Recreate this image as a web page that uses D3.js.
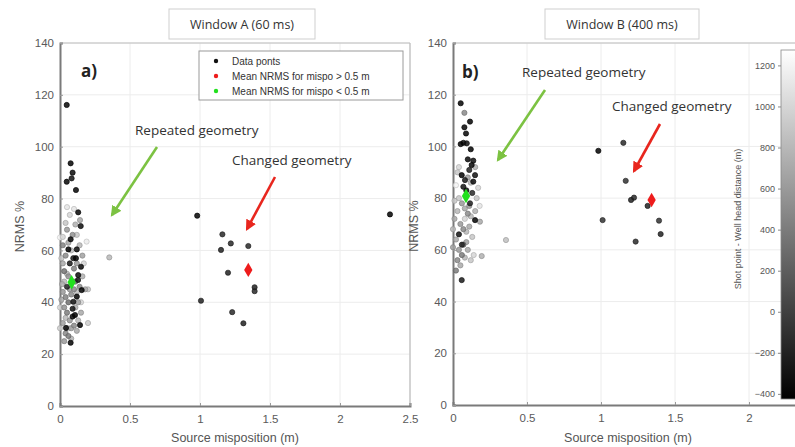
<!DOCTYPE html>
<html>
<head>
<meta charset="utf-8">
<script src="https://cdn.jsdelivr.net/npm/d3@7/dist/d3.min.js"></script>
<style>
  html, body { margin: 0; padding: 0; background: #fff; }
  svg { display: block; }
  .tick text { font-family: "Liberation Sans", Arial, sans-serif; }
</style>
</head>
<body>
<svg id="chart" width="795" height="447"></svg>
<script>
// ---- Data: [source misposition (m), NRMS %, shot point - well head distance (m)] ----
const windowA_repeated = [
  [0.048,116.1,-380],[0.076,93.6,-400],[0.09,90.0,-350],[0.083,87.8,-300],[0.048,86.5,-380],
  [0.114,83.3,-390],[0.13,74.7,-400],[0.148,69.4,-330],[0.076,64.3,-380],[0.06,60.4,-400],
  [0.12,60.4,-360],[0.114,57.0,-400],[0.095,57.0,-250],[0.15,53.7,-380],[0.129,48.6,-300],
  [0.155,44.7,-420],[0.12,42.2,-400],[0.095,40.2,-330],[0.107,35.1,-400],[0.09,34.5,-380],
  [0.143,31.2,-400],[0.043,30.1,-390],[0.076,24.4,-400],[0.09,37.5,-300],[0.05,46.0,-200],
  [0.13,50.5,-350],[0.07,55.0,-250],
  [0.02,62,450],[0.04,58,500],[0.03,52,350],[0.06,50,550],[0.1,53,450],[0.12,55,600],
  [0.16,58,650],[0.11,48,350],[0.14,46,500],[0.18,45,700],[0.02,44,600],[0.04,42,450],
  [0.06,40,300],[0.08,43,500],[0.13,40,650],[0.03,38,550],[0.05,36,400],[0.07,33,600],
  [0.1,31,500],[0.12,29,700],[0.02,32,650],[0.04,28,500],[0.06,27,400],[0.03,25,600],
  [0.08,26,750],[0.01,41,700],[0.015,47,750],[0.02,55,700],[0.09,48,650],[0.05,51,800],
  [0.07,45,600],[0.1,45,500],[0.11,38,750],[0.15,36,700],[0.08,30,650],[0.04,34,800],
  [0.12,44,850],[0.16,50,750],[0.06,63,700],[0.09,66,550],[0.14,62,800],[0.05,68,600],
  [0.11,70,750],
  [0.05,76.7,1100],[0.07,73.7,1000],[0.04,70.6,900],[0.02,65.2,1000],[0.19,63.4,1150],
  [0.143,71.7,700],[0.0,65,1200],[0.01,57,900],[0.17,55,1000],[0.2,45,900],[0.2,32,950],
  [0.03,48,800],[0.08,60,850],[0.12,66,900],[0.1,76,1100],[0.0,38,1000],[0.0,30,950],
  [0.06,30,1000],[0.13,33,800],[0.15,40,1000],[0.352,57.3,800]
];
const windowA_changed = [
  [0.98,73.4,-400],[1.16,66.2,-150],[1.22,62.7,-150],[1.15,60.2,-200],[1.345,61.7,-150],
  [1.20,51.4,-200],[1.39,45.8,-200],[1.39,44.3,-150],[1.007,40.6,-200],[1.23,36.2,-150],
  [1.31,31.9,-200],[2.357,73.9,-400]
];
const windowB_repeated = [
  [0.052,116.7,-400],[0.115,109.6,-400],[0.077,107.4,-380],[0.088,105,-390],[0.052,100.9,-400],
  [0.07,101.4,-350],[0.093,101.2,-300],[0.12,98.9,-400],[0.137,94.5,-330],[0.126,92.8,-380],
  [0.11,90.9,-200],[0.059,88.9,-400],[0.149,88.9,-300],[0.137,86.4,-350],[0.081,87,-250],
  [0.07,84.4,-300],[0.115,78,-200],[0.149,71.5,-400],[0.059,48.3,-250],[0.1,95,-350],
  [0.09,83,-350],[0.13,82,-150],[0.04,66,-300],[0.06,62,-200],
  [0.077,113,500],[0.182,70.9,700],[0.03,90,900],[0.02,85,1200],[0.04,80,900],[0.06,78,600],
  [0.08,76,700],[0.1,74,500],[0.12,73,800],[0.16,80,900],[0.17,84,1000],[0.18,77,1100],
  [0.03,75,800],[0.01,72,700],[0.05,70,600],[0.07,68,500],[0.09,67,800],[0.11,69,700],
  [0.13,65,900],[0.02,64,700],[0.04,60,600],[0.06,58,400],[0.08,57,800],[0.1,60,700],
  [0.12,56,900],[0.03,56,500],[0.05,54,700],[0.02,52,400],[0.07,62,300],[0.09,63,650],
  [0.14,58,1000],[0.15,75,750],[0.01,79,900],[0.11,77,600],[0.194,57.6,750],[0.358,63.8,850],
  [0.0,68,800],[0.0,61,650],[0.08,72,1000],[0.12,86,800],[0.15,92,750],[0.04,92,1000],
  [0.1,88,650]
];
const windowB_changed = [
  [0.982,98.3,-400],[1.151,101.4,-150],[1.167,86.7,-100],[1.203,79.3,-200],[1.223,80.2,-150],
  [1.315,77.0,-200],[1.011,71.5,-100],[1.392,71.3,-100],[1.403,66.1,-200],[1.234,63.2,-150]
];
// Mean NRMS markers [misposition, NRMS]
const meanHighA = [1.345, 52.5];
const meanLowA  = [0.083, 47.7];
const meanHighB = [1.342, 79.3];
const meanLowB  = [0.088, 80.8];

const xTicksA = [0, 0.5, 1, 1.5, 2, 2.5];
const xTicksB = [0, 0.5, 1, 1.5, 2];
const yTicks = [0, 20, 40, 60, 80, 100, 120, 140];
const cbTicks = [-400, -200, 0, 200, 400, 600, 800, 1000, 1200];
const cbDomain = [-425, 1275];
const legendLabels = ["Data ponts", "Mean NRMS for mispo > 0.5 m", "Mean NRMS for mispo < 0.5 m"];

// ---- Drawing ----
const svg = d3.select("#chart");
const tickFont = "Liberation Sans, Arial, sans-serif";
const annFont = "Open Sans, Lato, sans-serif";
const gray = d3.scaleLinear().domain(cbDomain).range(["#000000", "#ffffff"]).clamp(true);

const GREEN = "#22e01e", RED = "#ee1c1c";
const ARROW_GREEN = "#7cc242", ARROW_RED = "#e8261e";

const defs = svg.append("defs");
function arrowMarker(id, color) {
  defs.append("marker").attr("id", id).attr("viewBox", "0 0 10 10")
    .attr("refX", 8).attr("refY", 5).attr("markerWidth", 4.2).attr("markerHeight", 4.2)
    .attr("orient", "auto")
    .append("path").attr("d", "M0,0 L10,5 L0,10 Z").attr("fill", color);
}
arrowMarker("arrG", ARROW_GREEN);
arrowMarker("arrR", ARROW_RED);

function panel(cfg) {
  const x = d3.scaleLinear().domain([0, 2.5]).range([cfg.x0, cfg.x1]);
  const y = d3.scaleLinear().domain([0, 140]).range([cfg.yb, cfg.yt]);
  const g = svg.append("g");

  // grid
  g.append("g").selectAll("line").data(cfg.xTicks.slice(1)).join("line")
    .attr("x1", d => x(d)).attr("x2", d => x(d)).attr("y1", y(0)).attr("y2", y(140))
    .attr("stroke", "#ececec").attr("stroke-width", 1);
  g.append("g").selectAll("line").data(yTicks.slice(1)).join("line")
    .attr("x1", x(0)).attr("x2", x(2.5)).attr("y1", d => y(d)).attr("y2", d => y(d))
    .attr("stroke", "#ececec").attr("stroke-width", 1);

  // box (top / right)
  g.append("line").attr("x1", x(0)).attr("x2", x(2.5)).attr("y1", y(140)).attr("y2", y(140))
    .attr("stroke", "#bdbdbd").attr("stroke-width", 1.2);
  g.append("line").attr("x1", x(2.5)).attr("x2", x(2.5)).attr("y1", y(140)).attr("y2", y(0))
    .attr("stroke", "#bdbdbd").attr("stroke-width", 1.2);

  // axes
  const xa = g.append("g").attr("transform", `translate(0,${y(0)})`)
    .call(d3.axisBottom(x).tickValues(cfg.xTicks).tickSize(-3).tickPadding(9).tickFormat(d3.format("")));
  const ya = g.append("g").attr("transform", `translate(${x(0)},0)`)
    .call(d3.axisLeft(y).tickValues(yTicks).tickSize(-3).tickPadding(6));
  [xa, ya].forEach(a => {
    a.select(".domain").attr("stroke", "#7a7a7a").attr("stroke-width", 2);
    a.selectAll(".tick line").attr("stroke", "#9a9a9a");
    a.selectAll(".tick text").attr("fill", "#5a5a5a").attr("font-size", 11.5)
      .attr("font-family", tickFont);
  });

  // axis titles
  g.append("text").attr("x", cfg.xTitleX).attr("y", 442).attr("text-anchor", "middle")
    .attr("font-family", tickFont).attr("font-size", 12.5).attr("fill", "#555")
    .text("Source misposition (m)");
  g.append("text").attr("transform", `translate(${cfg.yTitleX},${(y(0) + y(140)) / 2 + 2}) rotate(-90)`)
    .attr("text-anchor", "middle").attr("font-family", tickFont).attr("font-size", 12.5)
    .attr("fill", "#555").text("NRMS %");

  // title box
  const tb = g.append("g");
  tb.append("rect").attr("x", cfg.titleX - cfg.titleW / 2).attr("y", 9)
    .attr("width", cfg.titleW).attr("height", 30).attr("fill", "#fff")
    .attr("stroke", "#cfcfcf").attr("stroke-width", 1);
  tb.append("text").attr("x", cfg.titleX).attr("y", 29).attr("text-anchor", "middle")
    .attr("font-family", annFont).attr("font-size", 12.5).attr("fill", "#333").text(cfg.title);

  // panel letter
  g.append("text").attr("x", cfg.letterX).attr("y", cfg.letterY).attr("font-family", annFont)
    .attr("font-weight", "bold").attr("font-size", 17).attr("fill", "#222").text(cfg.letter);

  // scatter points (lighter first so dark points sit on top)
  const pts = cfg.points.slice().sort((a, b) => b[2] - a[2]);
  g.append("g").selectAll("circle").data(pts).join("circle")
    .attr("cx", d => x(d[0])).attr("cy", d => y(d[1])).attr("r", 2.6)
    .attr("fill", d => gray(d[2]))
    .attr("stroke", d => d3.color(gray(d[2])).darker(0.6))
    .attr("stroke-width", 0.8).attr("fill-opacity", 0.85).attr("stroke-opacity", 0.85);

  // mean markers (diamonds)
  const diamond = d3.symbol().type(d3.symbolDiamond).size(60);
  g.append("path").attr("d", diamond).attr("fill", GREEN)
    .attr("transform", `translate(${x(cfg.meanLow[0])},${y(cfg.meanLow[1])})`);
  g.append("path").attr("d", diamond).attr("fill", RED)
    .attr("transform", `translate(${x(cfg.meanHigh[0])},${y(cfg.meanHigh[1])})`);

  // annotations
  g.append("text").attr("x", cfg.repX).attr("y", cfg.repY).attr("font-family", annFont)
    .attr("font-size", 13.5).attr("fill", "#333").text("Repeated geometry");
  g.append("text").attr("x", cfg.chgX).attr("y", cfg.chgY).attr("font-family", annFont)
    .attr("font-size", 13.5).attr("fill", "#333").text("Changed geometry");
  g.append("line").attr("x1", cfg.gArrow[0]).attr("y1", cfg.gArrow[1])
    .attr("x2", cfg.gArrow[2]).attr("y2", cfg.gArrow[3])
    .attr("stroke", ARROW_GREEN).attr("stroke-width", 2.6).attr("marker-end", "url(#arrG)");
  g.append("line").attr("x1", cfg.rArrow[0]).attr("y1", cfg.rArrow[1])
    .attr("x2", cfg.rArrow[2]).attr("y2", cfg.rArrow[3])
    .attr("stroke", ARROW_RED).attr("stroke-width", 2.6).attr("marker-end", "url(#arrR)");

  return { x, y, g };
}

const A = panel({
  x0: 60, x1: 410, yb: 406, yt: 43, xTitleX: 235, yTitleX: 24, xTicks: xTicksA,
  title: "Window A (60 ms)", titleX: 242, titleW: 146,
  letter: "a)", letterX: 81, letterY: 77,
  points: windowA_repeated.concat(windowA_changed),
  meanLow: meanLowA, meanHigh: meanHighA,
  repX: 135, repY: 135, chgX: 232, chgY: 165,
  gArrow: [157, 147, 112, 215], rArrow: [275, 177, 247, 229]
});

const B = panel({
  x0: 453, x1: 823, yb: 405, yt: 43, xTitleX: 628, yTitleX: 418, xTicks: xTicksB,
  title: "Window B (400 ms)", titleX: 622, titleW: 154,
  letter: "b)", letterX: 462, letterY: 78,
  points: windowB_repeated.concat(windowB_changed),
  meanLow: meanLowB, meanHigh: meanHighB,
  repX: 522, repY: 77, chgX: 612, chgY: 111,
  gArrow: [545, 90, 498, 160], rArrow: [660, 124, 634, 171]
});

// legend (panel A)
const lg = svg.append("g");
lg.append("rect").attr("x", 199).attr("y", 51).attr("width", 204).attr("height", 49)
  .attr("fill", "#fff").attr("stroke", "#9a9a9a").attr("stroke-width", 1);
const legendColors = ["#111", RED, GREEN];
legendLabels.forEach((t, i) => {
  const yy = 61 + i * 15;
  lg.append("circle").attr("cx", 216).attr("cy", yy).attr("r", 2.2).attr("fill", legendColors[i]);
  lg.append("text").attr("x", 232).attr("y", yy + 3.5).attr("font-family", tickFont)
    .attr("font-size", 10).attr("fill", "#333").text(t);
});

// colorbar (panel B)
const cb = d3.scaleLinear().domain(cbDomain).range([399, 50]);
const grad = defs.append("linearGradient").attr("id", "cbGrad")
  .attr("x1", 0).attr("y1", 1).attr("x2", 0).attr("y2", 0);
grad.append("stop").attr("offset", 0).attr("stop-color", gray(cbDomain[0]));
grad.append("stop").attr("offset", 1).attr("stop-color", gray(cbDomain[1]));
svg.append("rect").attr("x", 781).attr("y", cb(cbDomain[1])).attr("width", 16)
  .attr("height", cb(cbDomain[0]) - cb(cbDomain[1]))
  .attr("fill", "url(#cbGrad)").attr("stroke", "#888").attr("stroke-width", 0.8);
const cbAxis = svg.append("g").attr("transform", "translate(781,0)")
  .call(d3.axisLeft(cb).tickValues(cbTicks).tickSize(3).tickPadding(3).tickFormat(d3.format("d")));
cbAxis.select(".domain").remove();
cbAxis.selectAll(".tick line").attr("stroke", "#888");
cbAxis.selectAll(".tick text").attr("fill", "#555").attr("font-size", 9).attr("font-family", tickFont);
svg.append("text").attr("transform", "translate(741,219) rotate(-90)").attr("text-anchor", "middle")
  .attr("font-family", tickFont).attr("font-size", 9).attr("fill", "#555")
  .text("Shot point - Well head distance (m)");
</script>
</body>
</html>
